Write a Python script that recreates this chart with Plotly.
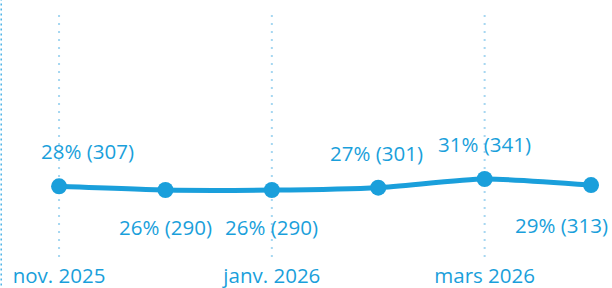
import plotly.graph_objects as go

months = ["nov. 2025", "déc. 2025", "janv. 2026", "févr. 2026", "mars 2026", "avr. 2026"]
pct = [28, 26, 26, 27, 31, 29]
counts = [307, 290, 290, 301, 341, 313]
tick_labels = ["nov. 2025", "", "janv. 2026", "", "mars 2026", ""]

BLUE = "#1a9fdb"
GRID = "#a6d7f1"
FONT = "Open Sans"

x = list(range(len(months)))
fig = go.Figure()
fig.add_trace(go.Scatter(
    x=x, y=counts, mode="lines+markers",
    line=dict(color=BLUE, width=5, shape="spline", smoothing=0.6),
    marker=dict(color=BLUE, size=16),
    hoverinfo="skip",
))

xshifts = [28, 0, 0, -2, 0, -30]
yshifts = [35, -37, -37, 35, 35, -40]
for i, (p, c) in enumerate(zip(pct, counts)):
    fig.add_annotation(
        x=x[i], y=c, text=f"{p}% ({c})", showarrow=False,
        yshift=yshifts[i], xshift=xshifts[i],
        font=dict(family=FONT, size=20.5, color=BLUE),
    )

fig.add_shape(type="line", xref="paper", yref="paper", x0=0.002, x1=0.002, y0=-0.2, y1=1.1,
              line=dict(color="#4fb4e6", width=1.5, dash="2px,3px"))

fig.update_layout(
    width=612, height=288,
    margin=dict(l=0, r=0, t=15, b=31, autoexpand=False),
    paper_bgcolor="white", plot_bgcolor="white",
    showlegend=False,
    xaxis=dict(range=[-0.555, 5.197], tickvals=x, ticktext=tick_labels,
               showgrid=False, zeroline=False, showline=False, ticks="",
               ticklabelstandoff=4, automargin=False,
               tickfont=dict(family=FONT, size=20.5, color=BLUE)),
    yaxis=dict(range=[-20, 1100], showgrid=False, zeroline=False,
               showticklabels=False, showline=False, automargin=False),
)
for xi in [0, 2, 4]:
    fig.add_vline(x=xi, line=dict(color=GRID, width=2, dash="2px,6px"), layer="below")

fig.write_html("out.html", config={"displayModeBar": False},
               post_script="document.body.style.margin='0';document.body.style.overflow='hidden';")
